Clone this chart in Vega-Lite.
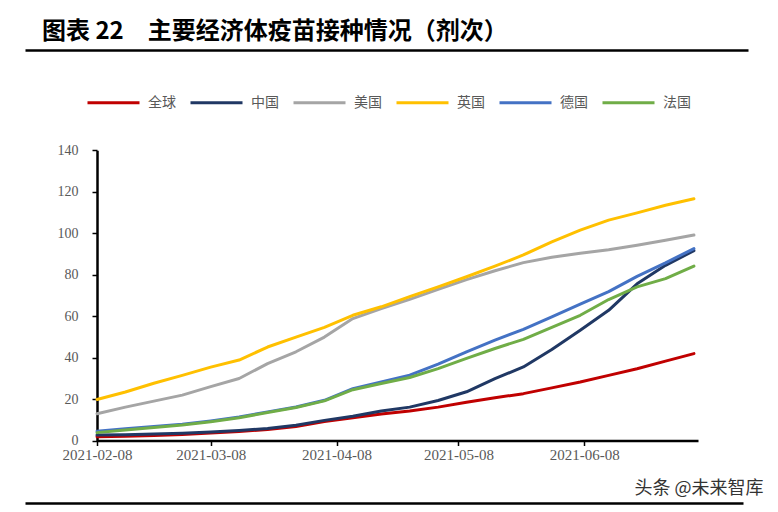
{
  "$schema": "https://vega.github.io/schema/vega-lite/v6.json",
  "width": 723,
  "height": 453,
  "autosize": {"type": "none"},
  "padding": {"left": 25, "top": 50, "right": 30, "bottom": 9},
  "background": "#ffffff",
  "config": {"view": {"stroke": null}},
  "title": {
    "text": "图表 22　主要经济体疫苗接种情况（剂次）",
    "anchor": "start",
    "frame": "group",
    "dx": 17,
    "offset": 6,
    "font": "Noto Sans CJK SC",
    "fontSize": 24,
    "fontWeight": "bold",
    "color": "#000000"
  },
  "datasets": {
    "vax": [
      {"date": "2021-02-08", "全球": 1.8, "中国": 2.6, "美国": 12.9, "英国": 19.8, "德国": 4.5, "法国": 3.8},
      {"date": "2021-02-15", "全球": 2.1, "中国": 2.8, "美国": 16.1, "英国": 23.4, "德国": 5.7, "法国": 5.1},
      {"date": "2021-02-22", "全球": 2.4, "中国": 3.1, "美国": 19.0, "英国": 27.6, "德国": 6.7, "法国": 6.3},
      {"date": "2021-03-01", "全球": 2.9, "中国": 3.5, "美国": 21.9, "英国": 31.4, "德国": 7.8, "法国": 7.5},
      {"date": "2021-03-08", "全球": 3.6, "中国": 4.1, "美国": 26.0, "英国": 35.4, "德国": 9.4, "法国": 9.1},
      {"date": "2021-03-15", "全球": 4.3, "中国": 4.8, "美国": 29.9, "英国": 38.8, "德国": 11.3, "法国": 11.0},
      {"date": "2021-03-22", "全球": 5.3, "中国": 5.8, "美国": 37.1, "英国": 45.1, "德国": 13.8, "法国": 13.5},
      {"date": "2021-03-29", "全球": 6.8, "中国": 7.4, "美国": 42.8, "英国": 49.9, "德国": 16.2, "法国": 15.9},
      {"date": "2021-04-05", "全球": 9.1, "中国": 9.7, "美国": 49.9, "英国": 54.6, "德国": 19.4, "法国": 19.1},
      {"date": "2021-04-12", "全球": 11.0, "中国": 11.7, "美国": 58.8, "英国": 60.4, "德国": 25.0, "法国": 24.5},
      {"date": "2021-04-19", "全球": 12.8, "中国": 14.2, "美国": 63.6, "英国": 64.5, "德国": 28.3, "法国": 27.5},
      {"date": "2021-04-26", "全球": 14.2, "中国": 16.1, "美国": 68.1, "英国": 69.4, "德国": 31.5, "法国": 30.4},
      {"date": "2021-05-03", "全球": 16.1, "中国": 19.3, "美国": 72.9, "英国": 74.1, "德国": 36.8, "法国": 34.7},
      {"date": "2021-05-10", "全球": 18.5, "中国": 23.5, "美国": 77.6, "英国": 79.0, "德国": 42.8, "法国": 39.6},
      {"date": "2021-05-17", "全球": 20.6, "中国": 29.8, "美国": 81.9, "英国": 84.1, "德国": 48.4, "法国": 44.4},
      {"date": "2021-05-24", "全球": 22.6, "中国": 35.5, "美国": 85.8, "英国": 89.5, "德国": 53.6, "法国": 48.8},
      {"date": "2021-05-31", "全球": 25.4, "中国": 43.9, "美国": 88.4, "英国": 95.8, "德国": 59.6, "法国": 54.6},
      {"date": "2021-06-07", "全球": 28.2, "中国": 53.2, "美国": 90.3, "英国": 101.5, "德国": 65.8, "法国": 60.4},
      {"date": "2021-06-14", "全球": 31.4, "中国": 62.8, "美国": 92.0, "英国": 106.3, "德国": 71.8, "法国": 68.0},
      {"date": "2021-06-21", "全球": 34.6, "中国": 75.6, "美国": 94.2, "英国": 109.8, "德国": 79.2, "法国": 74.1},
      {"date": "2021-06-28", "全球": 38.3, "中国": 84.5, "美国": 96.6, "英国": 113.5, "德国": 85.7, "法国": 78.1},
      {"date": "2021-07-05", "全球": 41.9, "中国": 91.6, "美国": 99.1, "英国": 116.6, "德国": 92.6, "法国": 84.1}
    ]
  },
  "layer": [
    {
      "data": {"name": "vax"},
      "transform": [
        {"fold": ["全球", "中国", "美国", "英国", "德国", "法国"], "as": ["country", "value"]}
      ],
      "mark": {"type": "line", "strokeWidth": 3, "strokeCap": "round", "strokeJoin": "round"},
      "encoding": {
        "x": {
          "field": "date",
          "type": "temporal",
          "scale": {
            "type": "utc",
            "domain": [
              {"year": 2021, "month": 2, "date": 8, "utc": true},
              {"year": 2021, "month": 7, "date": 6, "utc": true}
            ],
            "range": [72, 673],
            "nice": false
          },
          "axis": {
            "orient": "bottom",
            "offset": -62.5,
            "title": null,
            "grid": false,
            "values": [
              {"year": 2021, "month": 2, "date": 8, "utc": true},
              {"year": 2021, "month": 3, "date": 8, "utc": true},
              {"year": 2021, "month": 4, "date": 8, "utc": true},
              {"year": 2021, "month": 5, "date": 8, "utc": true},
              {"year": 2021, "month": 6, "date": 8, "utc": true}
            ],
            "labelExpr": "utcFormat(datum.value, '%Y-%m-%d')",
            "labelFlush": false,
            "labelOverlap": false,
            "labelFont": "Liberation Serif",
            "labelFontSize": 15,
            "labelColor": "#595959",
            "labelPadding": 2,
            "tickSize": 5,
            "tickWidth": 1.5,
            "tickColor": "#000000",
            "domainColor": "#000000",
            "domainWidth": 2.5
          }
        },
        "y": {
          "field": "value",
          "type": "quantitative",
          "scale": {"domain": [0, 140], "range": [390.5, 100.3], "nice": false},
          "axis": {
            "orient": "left",
            "offset": -72,
            "title": null,
            "grid": false,
            "values": [0, 20, 40, 60, 80, 100, 120, 140],
            "labelFont": "Liberation Serif",
            "labelFontSize": 14,
            "labelColor": "#595959",
            "labelPadding": 14,
            "tickSize": 5,
            "tickWidth": 1.5,
            "tickColor": "#000000",
            "domainColor": "#000000",
            "domainWidth": 2.5
          }
        },
        "color": {
          "field": "country",
          "type": "nominal",
          "scale": {
            "domain": ["全球", "中国", "美国", "英国", "德国", "法国"],
            "range": ["#C00000", "#203864", "#A5A5A5", "#FFC000", "#4472C4", "#70AD47"]
          },
          "legend": {
            "orient": "none",
            "legendX": 61,
            "legendY": 25,
            "direction": "horizontal",
            "title": null,
            "padding": 0,
            "symbolType": "stroke",
            "symbolSize": 2704,
            "symbolStrokeWidth": 3,
            "labelFont": "Noto Sans CJK SC",
            "labelFontSize": 14,
            "labelColor": "#595959",
            "labelOffset": 7,
            "columnPadding": 8
          }
        }
      }
    },
    {
      "data": {"values": [{"h": 0}, {"h": 1}]},
      "mark": {"type": "point", "opacity": 0},
      "encoding": {
        "x": {
          "field": "h",
          "type": "quantitative",
          "scale": {"domain": [0, 1], "nice": false, "zero": false},
          "axis": {
            "orient": "top",
            "title": null,
            "labels": false,
            "ticks": false,
            "grid": false,
            "domainColor": "#000000",
            "domainWidth": 2.7
          }
        }
      }
    },
    {
      "data": {"values": [{"f": 0}, {"f": 1}]},
      "mark": {"type": "point", "opacity": 0},
      "encoding": {
        "x": {
          "field": "f",
          "type": "quantitative",
          "scale": {"domain": [0, 1], "nice": false, "zero": false, "range": [0, 718]},
          "axis": {
            "orient": "bottom",
            "labels": false,
            "ticks": false,
            "grid": false,
            "domainColor": "#000000",
            "domainWidth": 2.5,
            "title": "头条 @未来智库",
            "titleFont": "Noto Sans CJK SC",
            "titleFontSize": 18,
            "titleFontWeight": "normal",
            "titleColor": "#333333",
            "titleX": 738,
            "titleY": -15,
            "titleAlign": "right",
            "titleBaseline": "middle"
          }
        }
      }
    }
  ],
  "resolve": {"scale": {"x": "independent"}, "axis": {"x": "independent"}}
}
